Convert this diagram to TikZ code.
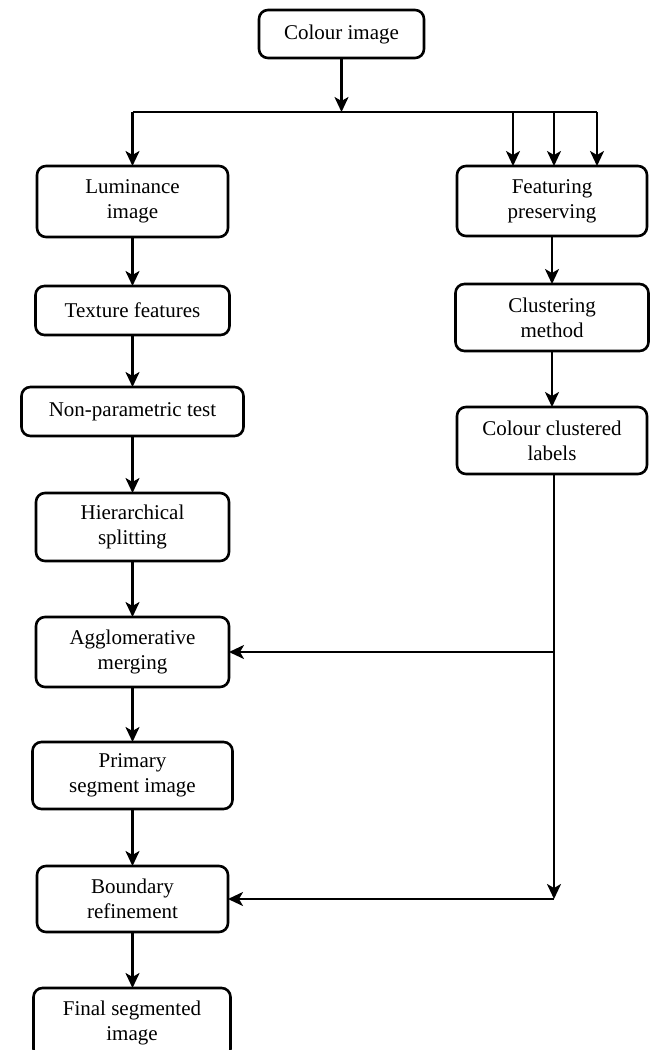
\documentclass[tikz,border=0pt]{standalone}
\usepackage{fontspec}
\setmainfont{Liberation Serif}
\usetikzlibrary{arrows.meta}
\tikzset{
  box/.style={draw=black, line width=2.6pt, rounded corners=9pt, fill=white,
    inner sep=0pt, outer sep=0pt, align=center,
    font=\fontsize{21}{25}\selectfont},
  conn/.style={line width=2.3pt},
  arr/.style={line width=2.3pt, -{Stealth[length=15pt,width=14pt,inset=4pt]}}
}
\begin{document}
\begin{tikzpicture}[x=1pt,y=-1pt]
\useasboundingbox (0,0) rectangle (651,1050);
% left column
\node[box, minimum width=165pt, minimum height=48pt] (ci) at (341.5,34) {Colour image};
\node[box, minimum width=191pt, minimum height=71pt] (lum) at (132.5,201.5) {Luminance\\image};
\node[box, minimum width=194pt, minimum height=49pt] (tex) at (132.5,310.5) {Texture features};
\node[box, minimum width=222pt, minimum height=49pt] (np) at (132.5,411.5) {Non-parametric test};
\node[box, minimum width=193pt, minimum height=68pt] (hs) at (132.5,527) {Hierarchical\\splitting};
\node[box, minimum width=193pt, minimum height=70pt] (am) at (132.5,652) {Agglomerative\\merging};
\node[box, minimum width=200pt, minimum height=67pt] (ps) at (132.5,775.5) {Primary\\segment image};
\node[box, minimum width=191pt, minimum height=66pt] (br) at (132.5,899) {Boundary\\refinement};
\node[box, minimum width=197pt, minimum height=70pt] (fs) at (132,1023) {Final segmented\\image};
% right column
\node[box, minimum width=190pt, minimum height=70pt] (fp) at (552,201) {Featuring\\preserving};
\node[box, minimum width=193pt, minimum height=67pt] (cm) at (552,317.5) {Clustering\\method};
\node[box, minimum width=190pt, minimum height=67pt] (cl) at (552,440.5) {Colour clustered\\labels};
% junctions
\coordinate (top) at (341.5,112);
\coordinate (hl) at (132.5,112);
\coordinate (hr) at (597,112);
\coordinate (d1) at (513,112);
\coordinate (d2) at (554,112);
\coordinate (j1) at (554,652);
\coordinate (j2) at (554,899);
% connectors
\draw[arr] (ci.south) -- (top);
\draw[conn] (hl) -- (hr);
\draw[arr] (hl) -- (lum.north);
\draw[arr] (d1) -- (d1 |- fp.north);
\draw[arr] (d2) -- (d2 |- fp.north);
\draw[arr] (hr) -- (hr |- fp.north);
\draw[arr] (lum) -- (tex);
\draw[arr] (tex) -- (np);
\draw[arr] (np) -- (hs);
\draw[arr] (hs) -- (am);
\draw[arr] (am) -- (ps);
\draw[arr] (ps) -- (br);
\draw[arr] (br.south) -- (br.south |- fs.north);
\draw[arr] (fp) -- (cm);
\draw[arr] (cm) -- (cl);
\draw[arr] (cl.south -| j1) -- (j2);
\draw[arr] (j1) -- (am.east);
\draw[arr] (j2) -- (br.east);
\end{tikzpicture}
\end{document}
